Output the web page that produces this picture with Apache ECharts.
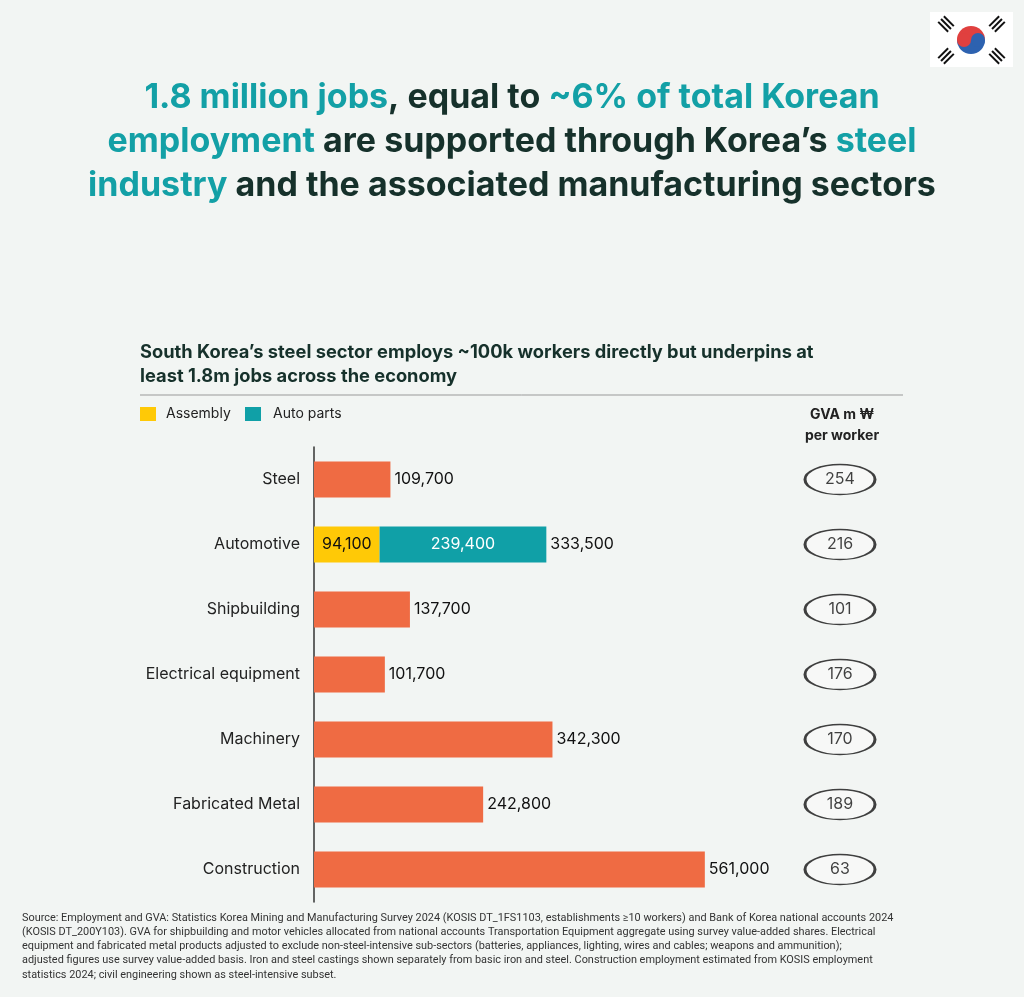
<!DOCTYPE html>
<html><head><meta charset="utf-8">
<script src="https://cdn.jsdelivr.net/npm/echarts@6/dist/echarts.min.js"></script>
<style>html,body{margin:0;padding:0;background:#f2f5f3}#c{width:1024px;height:997px}</style>
</head><body><div id="c"></div>
<script>
var categories = ['Steel','Automotive','Shipbuilding','Electrical equipment','Machinery','Fabricated Metal','Construction'];
var mainJobs = [109700, 0, 137700, 101700, 342300, 242800, 561000];
var assembly = [0, 94100, 0, 0, 0, 0, 0];
var autoParts = [0, 239400, 0, 0, 0, 0, 0];
var totals = [109700, 333500, 137700, 101700, 342300, 242800, 561000];
var gva = [254, 216, 101, 176, 170, 189, 63];

var dark = '#16312b', teal = '#13a0a6';
var notes = [
 'Source: Employment and GVA: Statistics Korea Mining and Manufacturing Survey 2024 (KOSIS DT_1FS1103, establishments \u226510 workers) and Bank of Korea national accounts 2024',
 '(KOSIS DT_200Y103). GVA for shipbuilding and motor vehicles allocated from national accounts Transportation Equipment aggregate using survey value-added shares. Electrical',
 'equipment and fabricated metal products adjusted to exclude non-steel-intensive sub-sectors (batteries, appliances, lighting, wires and cables; weapons and ammunition);',
 'adjusted figures use survey value-added basis. Iron and steel castings shown separately from basic iron and steel. Construction employment estimated from KOSIS employment',
 'statistics 2024; civil engineering shown as steel-intensive subset.'
];

var chart = echarts.init(document.getElementById('c'));
var hide = {show:false};

var titleRich = {
  t:{fontSize:34,fontWeight:'bold',fill:teal,fontFamily:'Inter'},
  d:{fontSize:34,fontWeight:'bold',fill:dark,fontFamily:'Inter'}
};
function trigram(x, y, rot){
  return {type:'group', x:x, y:y, rotation:rot, children:[
    {type:'rect', shape:{x:-7,y:-5,width:14,height:2}, style:{fill:'#111'}},
    {type:'rect', shape:{x:-7,y:-1,width:14,height:2}, style:{fill:'#111'}},
    {type:'rect', shape:{x:-7,y:3,width:14,height:2}, style:{fill:'#111'}}]};
}

chart.setOption({
  backgroundColor:'#f2f5f3',
  textStyle:{fontFamily:'Inter'},
  grid:[
    {left:314, top:447, width:418, height:455},
    {left:804, top:447, width:72, height:455}
  ],
  xAxis:[
    {gridIndex:0, type:'value', min:0, max:600000, show:false},
    {gridIndex:1, type:'value', min:0, max:1, show:false}
  ],
  yAxis:[
    {gridIndex:0, type:'category', data:categories, inverse:true,
     axisLine:{lineStyle:{color:'#333',width:1.5}}, axisTick:hide,
     axisLabel:{fontSize:16, color:'#222', margin:14}},
    {gridIndex:1, type:'category', data:categories, inverse:true, show:false}
  ],
  series:[
    {type:'bar', stack:'a', data:mainJobs, barWidth:36, itemStyle:{color:'#ef6b43'}, silent:true},
    {type:'bar', stack:'a', data:assembly, itemStyle:{color:'#ffc906'},
     label:{show:true, position:'inside', fontSize:16, color:'#111', formatter:function(p){return p.value?p.value.toLocaleString('en-US'):'';}}},
    {type:'bar', stack:'a', data:autoParts, itemStyle:{color:'#10a0a7'},
     label:{show:true, position:'inside', fontSize:16, color:'#fff', formatter:function(p){return p.value?p.value.toLocaleString('en-US'):'';}}},
    {type:'bar', stack:'a', data:totals.map(function(){return 0;}), itemStyle:{color:'transparent'},
     label:{show:true, position:'right', distance:4, fontSize:16, color:'#111',
       formatter:function(p){return totals[p.dataIndex].toLocaleString('en-US');}}},
    {type:'scatter', xAxisIndex:1, yAxisIndex:1, data:categories.map(function(c){return [0.5, c];}),
     symbol:'circle', symbolSize:[70,30],
     itemStyle:{color:'#f7f9f8', borderColor:'#111', borderWidth:2},
     label:{show:true, position:'inside', fontSize:16, color:'#111', formatter:function(p){return gva[p.dataIndex];}}}
  ],
  graphic:[
    {type:'text', x:512, y:76, style:{rich:titleRich, align:'center', lineHeight:44,
      text:'{t|1.8 million jobs}{d|, equal to }{t|~6% of total Korean}\n{t|employment}{d| are supported through Korea\u2019s }{t|steel}\n{t|industry}{d| and the associated manufacturing sectors}'}},
    {type:'text', left:140, top:341, style:{text:'South Korea\u2019s steel sector employs ~100k workers directly but underpins at\nleast 1.8m jobs across the economy', fontSize:18.3, fontWeight:'bold', fill:dark, lineHeight:24, fontFamily:'Inter'}},
    {type:'line', shape:{x1:140,y1:395,x2:903,y2:395}, style:{stroke:'#999',lineWidth:1}},
    {type:'rect', shape:{x:140,y:407,width:16,height:14}, style:{fill:'#ffc906'}},
    {type:'text', left:166, top:407, style:{text:'Assembly', fontSize:14, fill:'#222', fontFamily:'Inter'}},
    {type:'rect', shape:{x:245,y:407,width:16,height:14}, style:{fill:'#10a0a7'}},
    {type:'text', left:273, top:407, style:{text:'Auto parts', fontSize:14, fill:'#222', fontFamily:'Inter'}},
    {type:'text', x:842, y:404, style:{text:'GVA m \u20a9\nper worker', align:'center', fontSize:14, fontWeight:'bold', fill:'#222', lineHeight:21, fontFamily:'Inter'}},
    {type:'text', left:22, top:911, style:{text:notes.join('\n'), fontSize:10.9, fill:'#333', lineHeight:14.2, fontFamily:'Roboto'}},
    {type:'group', x:930, y:12, children:[
      {type:'rect', shape:{x:0,y:0,width:83,height:55}, style:{fill:'#fff'}},
      {type:'sector', shape:{cx:41,cy:28,r:14,startAngle:Math.PI,endAngle:2*Math.PI}, style:{fill:'#e0403f'}},
      {type:'sector', shape:{cx:41,cy:28,r:14,startAngle:0,endAngle:Math.PI}, style:{fill:'#2d62b0'}},
      {type:'circle', shape:{cx:34,cy:28,r:7}, style:{fill:'#e0403f'}},
      {type:'circle', shape:{cx:48,cy:28,r:7}, style:{fill:'#2d62b0'}},
      trigram(16, 12, -Math.PI/4), trigram(67, 44, -Math.PI/4),
      trigram(67, 12, Math.PI/4), trigram(16, 44, Math.PI/4)
    ]}
  ]
});
</script></body></html>
